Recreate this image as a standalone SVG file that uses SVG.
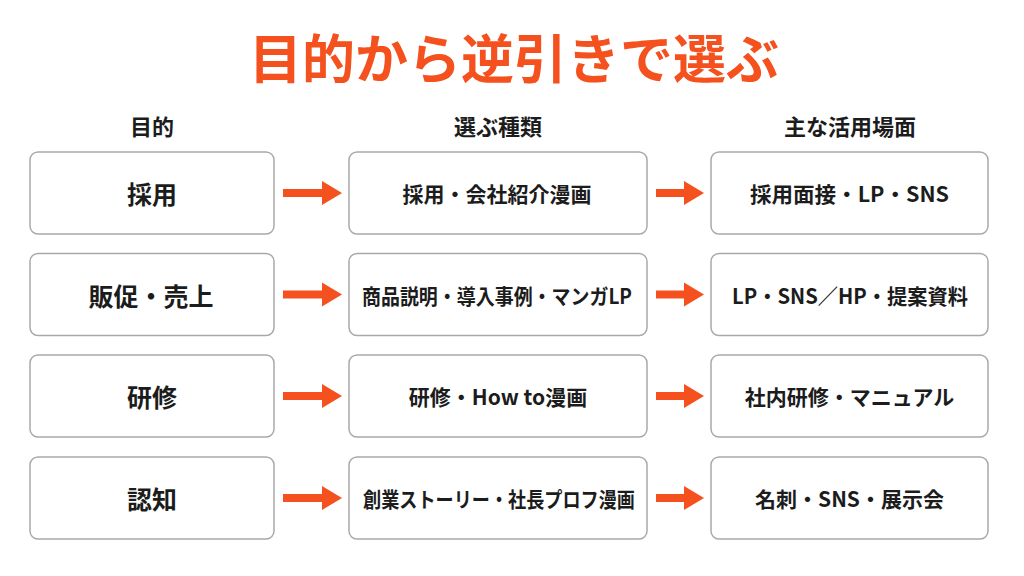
<svg xmlns="http://www.w3.org/2000/svg" width="1024" height="576" viewBox="0 0 1024 576">
<style>
  text { font-family: "Noto Sans CJK JP", "Noto Sans", sans-serif; font-weight: 700; fill: #1c1c1c; text-anchor: middle; dominant-baseline: central; }
  .title { font-size: 53px; fill: #F4511E; }
  .head { font-size: 22px; }
  .c1 { font-size: 25px; }
  .c2 { font-size: 21px; }
  .box { fill: #ffffff; stroke: #a9a9a9; stroke-width: 1.5; }
  .arrow { stroke: #F4511E; stroke-width: 8; fill: none; marker-end: url(#ah); }
</style>
<defs>
  <marker id="ah" markerUnits="userSpaceOnUse" markerWidth="20" markerHeight="24" refX="0" refY="12" orient="auto" overflow="visible">
    <path d="M0,0 L20,12 L0,24 Z" fill="#F4511E"/>
  </marker>
</defs>
<rect width="1024" height="576" fill="#ffffff"/>
<text class="title" x="514" y="56">目的から逆引きで選ぶ</text>
<g id="headers">
  <text class="head" x="152" y="125">目的</text>
  <text class="head" x="498" y="125">選ぶ種類</text>
  <text class="head" x="850" y="125">主な活用場面</text>
</g>
<g id="row1-purpose"><rect class="box" x="30" y="152" width="244" height="82" rx="8"/><text class="c1" x="152" y="193">採用</text></g>
<g id="row1-type"><rect class="box" x="349" y="152" width="298" height="82" rx="8"/><text class="c2" x="497" y="193" textLength="189" lengthAdjust="spacingAndGlyphs">採用・会社紹介漫画</text></g>
<g id="row1-use"><rect class="box" x="711" y="152" width="277" height="82" rx="8"/><text class="c2" x="849.5" y="193" textLength="199" lengthAdjust="spacingAndGlyphs">採用面接・LP・SNS</text></g>

<g id="row2-purpose"><rect class="box" x="30" y="253.5" width="244" height="82" rx="8"/><text class="c1" x="151" y="294.5">販促・売上</text></g>
<g id="row2-type"><rect class="box" x="349" y="253.5" width="298" height="82" rx="8"/><text class="c2" x="497" y="294.5" textLength="270" lengthAdjust="spacingAndGlyphs">商品説明・導入事例・マンガLP</text></g>
<g id="row2-use"><rect class="box" x="711" y="253.5" width="277" height="82" rx="8"/><text class="c2" x="850" y="294.5" textLength="236" lengthAdjust="spacingAndGlyphs">LP・SNS／HP・提案資料</text></g>

<g id="row3-purpose"><rect class="box" x="30" y="355" width="244" height="82" rx="8"/><text class="c1" x="152" y="396">研修</text></g>
<g id="row3-type"><rect class="box" x="349" y="355" width="298" height="82" rx="8"/><text class="c2" x="498" y="396">研修・How to漫画</text></g>
<g id="row3-use"><rect class="box" x="711" y="355" width="277" height="82" rx="8"/><text class="c2" x="849.5" y="396">社内研修・マニュアル</text></g>

<g id="row4-purpose"><rect class="box" x="30" y="457" width="244" height="82" rx="8"/><text class="c1" x="152" y="498">認知</text></g>
<g id="row4-type"><rect class="box" x="349" y="457" width="298" height="82" rx="8"/><text class="c2" x="499" y="498" textLength="272" lengthAdjust="spacingAndGlyphs">創業ストーリー・社長プロフ漫画</text></g>
<g id="row4-use"><rect class="box" x="711" y="457" width="277" height="82" rx="8"/><text class="c2" x="849.5" y="498">名刺・SNS・展示会</text></g>

<g id="connectors">
  <line class="arrow" x1="283" y1="193" x2="322" y2="193"/>
  <line class="arrow" x1="656" y1="193" x2="684" y2="193"/>
  <line class="arrow" x1="283" y1="294.5" x2="322" y2="294.5"/>
  <line class="arrow" x1="656" y1="294.5" x2="684" y2="294.5"/>
  <line class="arrow" x1="283" y1="396" x2="322" y2="396"/>
  <line class="arrow" x1="656" y1="396" x2="684" y2="396"/>
  <line class="arrow" x1="283" y1="498" x2="322" y2="498"/>
  <line class="arrow" x1="656" y1="498" x2="684" y2="498"/>
</g>
</svg>
